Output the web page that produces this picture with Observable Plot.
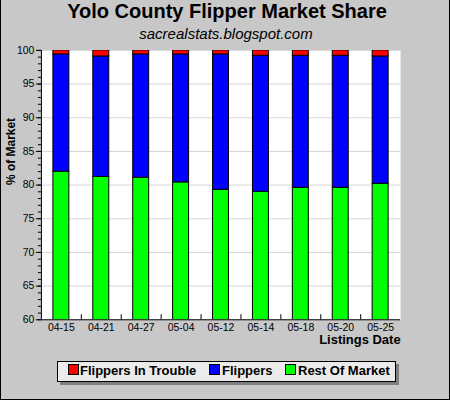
<!DOCTYPE html>
<html>
<head>
<meta charset="utf-8">
<script src="https://cdn.jsdelivr.net/npm/d3@7"></script>
<script src="https://cdn.jsdelivr.net/npm/@observablehq/plot@0.6"></script>
<style>
  html, body { margin: 0; padding: 0; background: #ffffff; }
  #chart {
    position: relative; width: 450px; height: 400px; box-sizing: border-box;
    background: #c8c8c8; border-left: 1px solid #000; border-right: 1px solid #000; border-bottom: 1px solid #000;
    font-family: "Liberation Sans", Arial, sans-serif; overflow: hidden;
  }
  #plot { position: absolute; left: -1px; top: 0; }
  .title { position: absolute; left: 0; width: 450px; text-align: center; white-space: nowrap; }
  #legend {
    position: absolute; left: 56px; top: 361px; width: 337px; height: 19px;
    background: #ebebeb; border: 1px solid #000; box-shadow: 3px 3px 0 #7f7f7f;
  }
  .sw { position: absolute; top: 2px; width: 9px; height: 9px; border: 1px solid #000; }
  .lt { position: absolute; top: 2px; font-size: 13px; line-height: 13px; font-weight: bold; white-space: nowrap; }
</style>
</head>
<body>
<div id="chart">
  <div class="title" style="top:1px;font-size:20px;line-height:20px;font-weight:bold;left:1px;">Yolo County Flipper Market Share</div>
  <div class="title" style="top:26px;font-size:15px;line-height:15px;font-style:italic;">sacrealstats.blogspot.com</div>
  <div id="plot"></div>
  <div id="legend"></div>
</div>
<script>
const dates = ["04-15","04-21","04-27","05-04","05-12","05-14","05-18","05-20","05-25"];
const restOfMarket = [82.0, 81.2, 81.1, 80.4, 79.3, 79.0, 79.6, 79.6, 80.2];
const flippers = [17.4, 17.9, 18.3, 19.0, 20.1, 20.2, 19.6, 19.6, 18.9];
const flippersInTrouble = [0.6, 0.9, 0.6, 0.6, 0.6, 0.8, 0.8, 0.8, 0.9];
const seriesNames = ["Rest Of Market", "Flippers", "Flippers In Trouble"];
const seriesColors = ["#00ff00", "#0000ff", "#ff0000"];
const yTicks = [60, 65, 70, 75, 80, 85, 90, 95, 100];
const yMinorTicks = d3.range(60, 101, 1);

const seriesValues = [restOfMarket, flippers, flippersInTrouble];
const rows = [];
dates.forEach((d, i) => {
  seriesNames.forEach((s, j) => rows.push({date: d, series: s, value: seriesValues[j][i]}));
});

const W = 450, ML = 41, MR = 49;
const step = (W - ML - MR) / dates.length;

const plot = Plot.plot({
  width: W,
  height: 400,
  marginLeft: ML,
  marginRight: MR,
  marginTop: 50,
  marginBottom: 80,
  style: {background: "transparent", fontFamily: "'Liberation Sans', Arial, sans-serif", color: "#000", overflow: "visible"},
  x: {domain: dates, paddingInner: 0.6, paddingOuter: 0.3, label: null},
  y: {domain: [60, 100], label: null},
  color: {domain: seriesNames, range: seriesColors},
  marks: [
    Plot.frame({fill: "white", stroke: "none"}),
    Plot.gridY(yTicks, {stroke: "#d6d6d6", strokeOpacity: 1}),
    Plot.barY(rows, {x: "date", y: "value", fill: "series", stroke: "#000", strokeWidth: 1, order: seriesNames, clip: true}),
    Plot.ruleY([60], {stroke: "#000"}),
    Plot.ruleX([dates[0]], {dx: -step / 2, stroke: "#000"}),
    Plot.ruleX(dates.slice(1), {dx: -step / 2, y1: 60, y2: 60.75, stroke: "#000"}),
    Plot.axisY(yMinorTicks, {tickSize: 3, text: null, label: null}),
    Plot.axisY(yTicks, {tickSize: 5, tickPadding: 2, fontSize: 10.5, label: null}),
    Plot.axisX({tickSize: 0, tickPadding: 4, fontSize: 10.5, label: null}),
    Plot.text(["Listings Date"], {frameAnchor: "bottom-right", textAnchor: "end", dy: 24, fontSize: 13, fontWeight: "bold"}),
    Plot.text(["% of Market"], {frameAnchor: "left", rotate: -90, dx: -30, fontSize: 12, fontWeight: "bold"})
  ]
});
document.getElementById("plot").appendChild(plot);

const legendItems = [
  {name: "Flippers In Trouble", color: "#ff0000", sx: 9.7, tx: 22},
  {name: "Flippers", color: "#0000ff", sx: 151.3, tx: 164},
  {name: "Rest Of Market", color: "#00ff00", sx: 227, tx: 240}
];
const lg = document.getElementById("legend");
legendItems.forEach(it => {
  const s = document.createElement("div");
  s.className = "sw"; s.style.left = it.sx + "px"; s.style.background = it.color;
  lg.appendChild(s);
  const t = document.createElement("div");
  t.className = "lt"; t.style.left = it.tx + "px"; t.textContent = it.name;
  lg.appendChild(t);
});
</script>
</body>
</html>
